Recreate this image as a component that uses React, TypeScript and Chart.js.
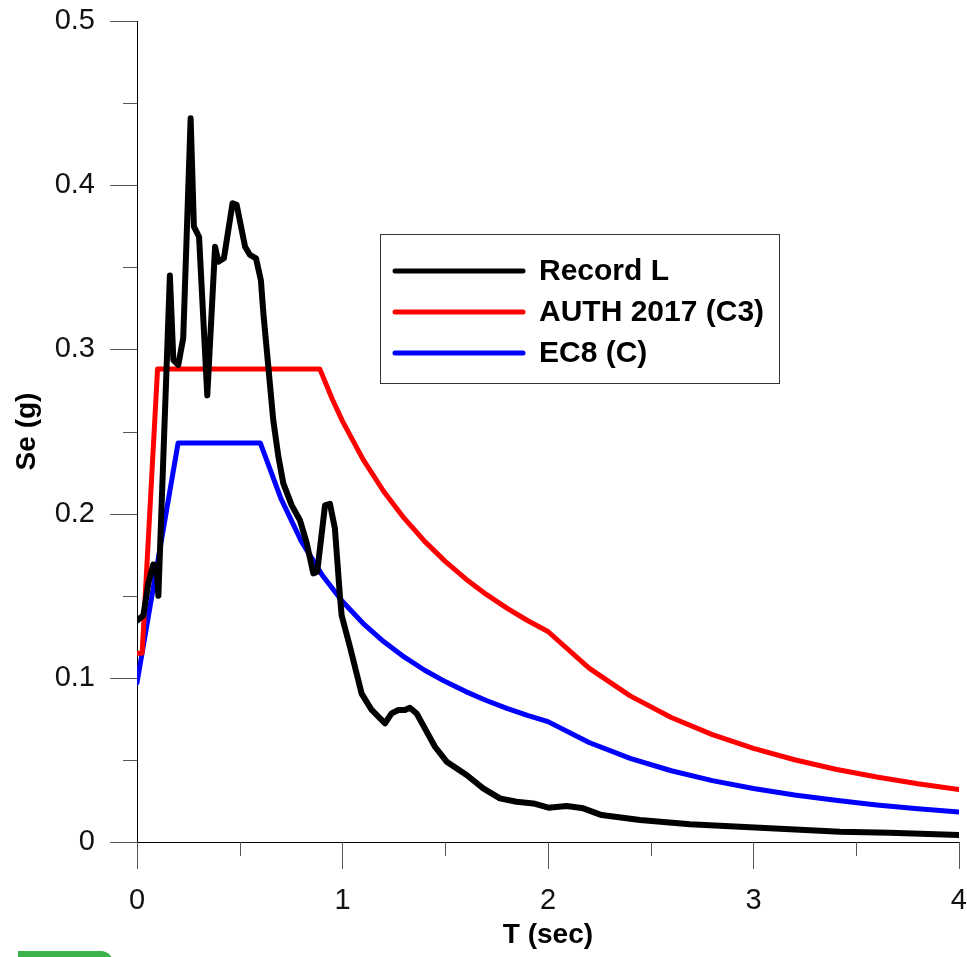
import React, { useEffect, useRef } from "react";
import { Chart, registerables } from "chart.js";

Chart.register(...registerables);

// ---- data ----
const recordT = [0, 0.031, 0.055, 0.079, 0.095, 0.104, 0.16, 0.177, 0.201, 0.225, 0.261, 0.277, 0.302, 0.342, 0.38, 0.396, 0.423, 0.465, 0.485, 0.526, 0.55, 0.579, 0.603, 0.615, 0.639, 0.663, 0.688, 0.712, 0.753, 0.793, 0.826, 0.858, 0.877, 0.915, 0.939, 0.963, 0.988, 0.996, 1.036, 1.093, 1.142, 1.207, 1.239, 1.272, 1.304, 1.328, 1.361, 1.401, 1.45, 1.507, 1.604, 1.685, 1.766, 1.847, 1.929, 2.002, 2.091, 2.172, 2.261, 2.448, 2.691, 2.934, 3.178, 3.421, 3.664, 4.0];
const recordSe = [0.1348, 0.138, 0.1575, 0.169, 0.168, 0.15, 0.345, 0.2935, 0.2905, 0.307, 0.4407, 0.3747, 0.3686, 0.272, 0.3625, 0.3534, 0.3555, 0.389, 0.388, 0.3625, 0.3575, 0.3555, 0.342, 0.322, 0.2895, 0.257, 0.2347, 0.2184, 0.205, 0.196, 0.182, 0.1636, 0.1646, 0.205, 0.206, 0.191, 0.149, 0.138, 0.119, 0.0904, 0.0804, 0.0723, 0.0783, 0.0804, 0.0804, 0.0818, 0.0783, 0.0692, 0.058, 0.0489, 0.0408, 0.0327, 0.0266, 0.0245, 0.0235, 0.0209, 0.0219, 0.0205, 0.0164, 0.0134, 0.0108, 0.0093, 0.0077, 0.0063, 0.0057, 0.0043];

const authT = [0, 0.025, 0.1, 0.89, 0.95, 1.0, 1.1, 1.2, 1.3, 1.4, 1.5, 1.6, 1.7, 1.8, 1.9, 2.0, 2.2, 2.4, 2.6, 2.8, 3.0, 3.2, 3.4, 3.6, 3.8, 4.0];
const authSe = [0.115, 0.115, 0.288, 0.288, 0.2698, 0.2563, 0.233, 0.2136, 0.1972, 0.1831, 0.1709, 0.1602, 0.1508, 0.1424, 0.1349, 0.1282, 0.1059, 0.089, 0.0758, 0.0654, 0.057, 0.0501, 0.0443, 0.0396, 0.0355, 0.032];

const ec8T = [0, 0.2, 0.6, 0.7, 0.8, 0.9, 1.0, 1.1, 1.2, 1.3, 1.4, 1.5, 1.6, 1.7, 1.8, 1.9, 2.0, 2.2, 2.4, 2.6, 2.8, 3.0, 3.2, 3.4, 3.6, 3.8, 4.0];
const ec8Se = [0.097, 0.243, 0.243, 0.2093, 0.1831, 0.1628, 0.1465, 0.1332, 0.1221, 0.1127, 0.1046, 0.0977, 0.0916, 0.0862, 0.0814, 0.0771, 0.0733, 0.0606, 0.0509, 0.0434, 0.0374, 0.0326, 0.0286, 0.0254, 0.0226, 0.0203, 0.0183];

const seriesLabels = ["Record L", "AUTH 2017 (C3)", "EC8 (C)"];
const seriesColors = ["#000000", "#ff0000", "#0000ff"];

const xTickLabels = ["0", "1", "2", "3", "4"];
const yTickLabels = ["0", "0.1", "0.2", "0.3", "0.4", "0.5"];
const xMajorTicks = [0, 1, 2, 3, 4];
const xMinorTicks = [0.5, 1.5, 2.5, 3.5];
const yMajorTicks = [0, 0.1, 0.2, 0.3, 0.4, 0.5];
const yMinorTicks = [0.05, 0.15, 0.25, 0.35, 0.45];

const xTitle = "T (sec)";
const yTitle = "Se (g)";

const toPoints = (xs: number[], ys: number[]) => xs.map((x, i) => ({ x, y: ys[i] }));

// ---- plugins ----
const tickMarksPlugin = {
  id: "tickMarks",
  afterDraw(chart: any) {
    const { ctx, scales, chartArea } = chart;
    const xs = scales.x;
    const ys = scales.y;
    ctx.save();
    ctx.strokeStyle = "#555555";
    ctx.lineWidth = 1;
    const major = 27;
    const minor = 14;
    const drawX = (v: number, len: number) => {
      const px = Math.round(xs.getPixelForValue(v)) + 0.5;
      ctx.beginPath();
      ctx.moveTo(px, chartArea.bottom);
      ctx.lineTo(px, chartArea.bottom + len);
      ctx.stroke();
    };
    const drawY = (v: number, len: number) => {
      const py = Math.round(ys.getPixelForValue(v)) + 0.5;
      ctx.beginPath();
      ctx.moveTo(chartArea.left, py);
      ctx.lineTo(chartArea.left - len, py);
      ctx.stroke();
    };
    xMajorTicks.forEach((v) => drawX(v, major));
    xMinorTicks.forEach((v) => drawX(v, minor));
    yMajorTicks.forEach((v) => drawY(v, major));
    yMinorTicks.forEach((v) => drawY(v, minor));
    ctx.restore();
  },
};

const legendBox = { left: 380, top: 234, width: 399, height: 149 };
const legendPlugin = {
  id: "boxLegend",
  afterDraw(chart: any) {
    const { ctx } = chart;
    ctx.save();
    ctx.fillStyle = "#ffffff";
    ctx.fillRect(legendBox.left, legendBox.top, legendBox.width, legendBox.height);
    ctx.strokeStyle = "#333333";
    ctx.lineWidth = 1;
    ctx.strokeRect(legendBox.left + 0.5, legendBox.top + 0.5, legendBox.width, legendBox.height);
    const rowStart = legendBox.top + 37;
    const rowGap = 41;
    chart.data.datasets.forEach((ds: any, i: number) => {
      const y = rowStart + i * rowGap;
      ctx.strokeStyle = ds.borderColor;
      ctx.lineWidth = 5;
      ctx.lineCap = "round";
      ctx.beginPath();
      ctx.moveTo(legendBox.left + 15, y);
      ctx.lineTo(legendBox.left + 143, y);
      ctx.stroke();
      ctx.fillStyle = "#000000";
      ctx.font = "bold 30px 'Liberation Sans', Arial, sans-serif";
      ctx.textBaseline = "middle";
      ctx.textAlign = "left";
      ctx.fillText(ds.label, legendBox.left + 159, y + 1);
    });
    ctx.restore();
  },
};

export default function App() {
  const canvasRef = useRef<HTMLCanvasElement | null>(null);

  useEffect(() => {
    if (!canvasRef.current) return;
    const series = [
      toPoints(recordT, recordSe),
      toPoints(authT, authSe),
      toPoints(ec8T, ec8Se),
    ];
    const widths = [6, 5, 5];
    const chart = new Chart(canvasRef.current, {
      type: "line",
      data: {
        datasets: series.map((data, i) => ({
          label: seriesLabels[i],
          data,
          borderColor: seriesColors[i],
          backgroundColor: seriesColors[i],
          borderWidth: widths[i],
          pointRadius: 0,
          pointHoverRadius: 0,
          tension: 0,
          fill: false,
          borderCapStyle: "round",
          borderJoinStyle: "round",
        })),
      },
      options: {
        animation: false,
        responsive: false,
        maintainAspectRatio: false,
        events: [],
        layout: { padding: { left: 0, top: 21, right: 8, bottom: 0 } },
        plugins: {
          legend: { display: false },
          tooltip: { enabled: false },
          title: { display: false },
        },
        scales: {
          x: {
            type: "linear",
            min: 0,
            max: 4,
            afterFit(scale: any) {
              scale.height = 115;
            },
            afterBuildTicks(scale: any) {
              scale.ticks = xMajorTicks.map((v) => ({ value: v }));
            },
            grid: { display: false, drawTicks: true, tickLength: 42 },
            border: { display: true, color: "#000000", width: 1 },
            ticks: {
              padding: 0,
              color: "#111111",
              font: { family: "'Liberation Sans', Arial, sans-serif", size: 29 },
              maxRotation: 0,
              callback: (_v: any, i: number) => xTickLabels[i],
            },
            title: {
              display: true,
              text: xTitle,
              color: "#000000",
              font: { family: "'Liberation Sans', Arial, sans-serif", size: 28, weight: "bold" },
              padding: { top: 0, bottom: 5 },
            },
          },
          y: {
            type: "linear",
            min: 0,
            max: 0.5,
            afterFit(scale: any) {
              scale.width = 137;
            },
            afterBuildTicks(scale: any) {
              scale.ticks = yMajorTicks.map((v) => ({ value: v }));
            },
            grid: { display: false, drawTicks: true, tickLength: 42 },
            border: { display: true, color: "#000000", width: 1 },
            ticks: {
              padding: 0,
              color: "#111111",
              font: { family: "'Liberation Sans', Arial, sans-serif", size: 29 },
              callback: (_v: any, i: number) => yTickLabels[i],
            },
            title: {
              display: true,
              text: yTitle,
              color: "#000000",
              font: { family: "'Liberation Sans', Arial, sans-serif", size: 28, weight: "bold" },
              padding: { top: 10, bottom: 0 },
            },
          },
        },
      },
      plugins: [tickMarksPlugin, legendPlugin],
    } as any);
    return () => chart.destroy();
  }, []);

  return (
    <div style={{ position: "absolute", left: 0, top: 0, width: 967, height: 957, background: "#ffffff", overflow: "hidden" }}>
      <canvas ref={canvasRef} width={967} height={957} style={{ display: "block", width: 967, height: 957 }} />
      <div
        style={{
          position: "absolute",
          left: 18,
          top: 951,
          width: 95,
          height: 12,
          background: "#3cb44b",
          borderTopRightRadius: 14,
        }}
      />
    </div>
  );
}
